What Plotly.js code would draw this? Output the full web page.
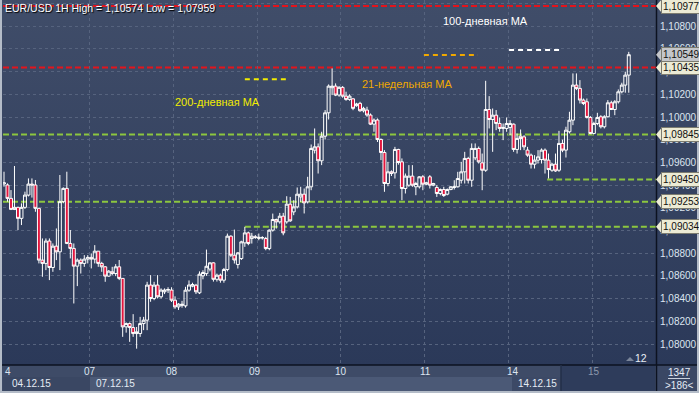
<!DOCTYPE html>
<html><head><meta charset="utf-8">
<script src="https://cdn.plot.ly/plotly-3.0.1.min.js"></script>
<style>
html,body{margin:0;padding:0;width:699px;height:393px;overflow:hidden;background:#2b3959;}
#chart{width:699px;height:393px;background:linear-gradient(to bottom,#404d69 0px,#2b3959 365px,#2b3959 393px);}
</style></head><body><div id="chart"></div>
<script>
// ---- data (EUR/USD 1H, 04.12.15 - 15.12.15) ----
const opens = [1.09410,1.09401,1.09283,1.09186,1.09204,1.09107,1.09204,1.09312,1.09409,1.09401,
1.09195,1.08739,1.08710,1.08907,1.08674,1.08862,1.08812,1.09254,1.09371,1.08886,
1.08842,1.08686,1.08739,1.08710,1.08748,1.08763,1.08748,1.08818,1.08710,1.08680,
1.08598,1.08636,1.08621,1.08680,1.08578,1.08151,1.08180,1.08145,1.08092,1.08092,
1.08180,1.08210,1.08519,1.08401,1.08519,1.08416,1.08460,1.08475,1.08475,1.08386,
1.08327,1.08340,1.08336,1.08474,1.08510,1.08518,1.08451,1.08600,1.08620,1.08660,
1.08715,1.08570,1.08606,1.08562,1.08656,1.08950,1.08782,1.08700,1.08753,1.08891,
1.08979,1.08929,1.08944,1.08930,1.08935,1.08929,1.08841,1.09003,1.09097,1.09076,
1.09126,1.09076,1.09232,1.09164,1.09208,1.09296,1.09320,1.09252,1.09385,1.09708,
1.09737,1.09614,1.09831,1.10037,1.10258,1.10272,1.10193,1.10261,1.10184,1.10155,
1.10160,1.10100,1.10120,1.10055,1.10061,1.10017,1.09937,1.09973,1.09802,1.09687,
1.09414,1.09517,1.09508,1.09714,1.09605,1.09370,1.09399,1.09479,1.09385,1.09385,
1.09473,1.09408,1.09473,1.09399,1.09379,1.09326,1.09361,1.09320,1.09361,1.09379,
1.09385,1.09443,1.09517,1.09635,1.09443,1.09640,1.09723,1.09596,1.09531,1.10066,
1.09978,1.10016,1.09943,1.09899,1.09899,1.09908,1.09937,1.09714,1.09831,1.09825,
1.09708,1.09664,1.09584,1.09620,1.09625,1.09708,1.09620,1.09531,1.09584,1.09531,
1.09767,1.09708,1.09870,1.09972,1.10281,1.10252,1.10149,1.10134,1.09996,1.09855,
1.09943,1.10002,1.09914,1.10002,1.10125,1.10066,1.10134,1.10222,1.10281,1.10369];
const highs = [1.09518,1.09415,1.09356,1.09568,1.09210,1.09239,1.09342,1.09459,1.09459,1.09445,
1.09200,1.08930,1.08930,1.08930,1.08886,1.09018,1.09489,1.09380,1.09518,1.09004,
1.08886,1.08754,1.08754,1.08783,1.08783,1.08798,1.08871,1.08818,1.08724,1.08686,
1.08651,1.08680,1.08704,1.08740,1.08578,1.08190,1.08190,1.08263,1.08150,1.08239,
1.08239,1.08548,1.08607,1.08548,1.08607,1.08490,1.08490,1.08500,1.08500,1.08420,
1.08360,1.08380,1.08504,1.08560,1.08540,1.08530,1.08640,1.08650,1.08832,1.08720,
1.08720,1.08620,1.08620,1.08670,1.08973,1.08958,1.09008,1.08810,1.08910,1.09032,
1.08990,1.08979,1.08960,1.08973,1.08950,1.08944,1.09010,1.09149,1.09105,1.09155,
1.09155,1.09302,1.09296,1.09267,1.09379,1.09385,1.09370,1.09473,1.09758,1.09899,
1.09767,1.09870,1.10061,1.10287,1.10428,1.10296,1.10272,1.10272,1.10223,1.10200,
1.10165,1.10125,1.10134,1.10090,1.10090,1.10031,1.09987,1.09987,1.09811,1.09708,
1.09605,1.09530,1.09737,1.09720,1.09635,1.09502,1.09576,1.09576,1.09429,1.09479,
1.09488,1.09429,1.09488,1.09420,1.09399,1.09370,1.09385,1.09370,1.09390,1.09443,
1.09517,1.09605,1.09693,1.09649,1.09767,1.09767,1.09740,1.09678,1.10319,1.10184,
1.10075,1.10061,1.09996,1.09943,1.09996,1.09972,1.09943,1.09855,1.09890,1.09840,
1.09737,1.09678,1.09664,1.09708,1.09723,1.09723,1.09678,1.09596,1.09678,1.09878,
1.09800,1.09914,1.10046,1.10384,1.10384,1.10325,1.10163,1.10163,1.10008,1.09958,
1.10037,1.10016,1.10016,1.10149,1.10143,1.10149,1.10243,1.10302,1.10399,1.10574];
const lows = [1.09386,1.09254,1.09180,1.09180,1.09004,1.09048,1.09190,1.09300,1.09290,1.09165,
1.08710,1.08592,1.08651,1.08563,1.08636,1.08739,1.08651,1.09240,1.08880,1.08754,
1.08357,1.08510,1.08621,1.08680,1.08710,1.08666,1.08710,1.08680,1.08636,1.08548,
1.08592,1.08607,1.08598,1.08563,1.08063,1.08100,1.08019,1.08063,1.07959,1.08063,
1.08122,1.08122,1.08372,1.08386,1.08401,1.08401,1.08440,1.08450,1.08370,1.08310,
1.08300,1.08320,1.08320,1.08460,1.08500,1.08440,1.08440,1.08570,1.08600,1.08640,
1.08550,1.08550,1.08540,1.08540,1.08640,1.08767,1.08709,1.08665,1.08740,1.08856,
1.08870,1.08885,1.08926,1.08914,1.08920,1.08826,1.08826,1.08990,1.09017,1.09060,
1.08958,1.09060,1.09076,1.09135,1.09194,1.09252,1.09150,1.09238,1.09355,1.09679,
1.09502,1.09576,1.09802,1.09978,1.10193,1.10184,1.10178,1.10170,1.10143,1.10143,
1.10060,1.10090,1.10046,1.10040,1.10002,1.09929,1.09870,1.09780,1.09620,1.09341,
1.09390,1.09480,1.09458,1.09580,1.09267,1.09326,1.09385,1.09385,1.09311,1.09370,
1.09355,1.09399,1.09370,1.09390,1.09296,1.09310,1.09296,1.09310,1.09355,1.09361,
1.09379,1.09414,1.09414,1.09414,1.09385,1.09620,1.09590,1.09355,1.09517,1.09899,
1.09693,1.09884,1.09870,1.09796,1.09870,1.09840,1.09693,1.09678,1.09708,1.09708,
1.09649,1.09546,1.09546,1.09590,1.09590,1.09502,1.09458,1.09517,1.09517,1.09517,
1.09690,1.09643,1.09855,1.09928,1.10237,1.10119,1.10105,1.09987,1.09849,1.09849,
1.09928,1.09899,1.09899,1.09996,1.10061,1.10016,1.10119,1.10208,1.10214,1.10214];
const closes = [1.09420,1.09283,1.09186,1.09204,1.09107,1.09204,1.09312,1.09409,1.09401,1.09195,
1.08739,1.08710,1.08907,1.08674,1.08862,1.08812,1.09254,1.09371,1.08886,1.08842,
1.08686,1.08739,1.08710,1.08748,1.08763,1.08748,1.08818,1.08710,1.08680,1.08598,
1.08642,1.08621,1.08680,1.08578,1.08151,1.08180,1.08145,1.08092,1.08107,1.08180,
1.08210,1.08519,1.08401,1.08519,1.08416,1.08475,1.08475,1.08480,1.08386,1.08327,
1.08351,1.08350,1.08474,1.08520,1.08524,1.08460,1.08615,1.08630,1.08685,1.08715,
1.08570,1.08606,1.08562,1.08656,1.08950,1.08782,1.08740,1.08803,1.08900,1.08979,
1.08885,1.08950,1.08940,1.08940,1.08937,1.08841,1.09003,1.09097,1.09076,1.09126,
1.08979,1.09232,1.09085,1.09208,1.09320,1.09320,1.09243,1.09385,1.09723,1.09737,
1.09614,1.09831,1.10037,1.10272,1.10272,1.10193,1.10261,1.10184,1.10155,1.10184,
1.10076,1.10114,1.10055,1.10076,1.10017,1.09937,1.09973,1.09802,1.09687,1.09414,
1.09517,1.09502,1.09714,1.09599,1.09370,1.09479,1.09479,1.09399,1.09414,1.09473,
1.09408,1.09420,1.09399,1.09414,1.09326,1.09361,1.09308,1.09361,1.09385,1.09385,
1.09458,1.09517,1.09635,1.09443,1.09723,1.09723,1.09605,1.09531,1.10066,1.09978,
1.10016,1.09943,1.09899,1.09908,1.09943,1.09943,1.09714,1.09811,1.09811,1.09737,
1.09664,1.09584,1.09620,1.09649,1.09708,1.09620,1.09537,1.09584,1.09525,1.09767,
1.09708,1.09884,1.09972,1.10281,1.10252,1.10149,1.10119,1.09996,1.09855,1.09943,
1.09996,1.09914,1.10002,1.10125,1.10066,1.10134,1.10222,1.10281,1.10369,1.10549];
const dayLabels = ['4','07','08','09','10','11','14','15'];
const dateLabels = ['04.12.15','07.12.15','14.12.15'];
const levelPrices = [1.10977,1.10435,1.09845,1.09450,1.09253,1.09034];
const maNames = ['200-дневная МА','21-недельная МА','100-дневная МА'];
const maValues = [1.10332,1.10546,1.10590];
const barsCount = '1347';
const barsShown = '>186<';

// ---- layout geometry ----
const PL=3, PR=656, PT=0, PB=365;
const xp = px => (px-PL)/(PR-PL);
const yp = py => (PB-py)/(PB-PT);
const yRange=[1.07815,1.110308];
const xRange=[-0.29,186.8];
const pxPerPrice = (PB-PT)/(yRange[1]-yRange[0]);
const fmt = v => v.toFixed(5).replace('.', ',');
const xs = opens.map((_,i)=>i);
const dayGrid = [24.5,48.5,72.5,96.5,120.5,144.5,168.5];
const dayLabelPx = [3,90,172,255,341,425,513,594];
const levelStart = [xRange[0],xRange[0],xRange[0],155.6,xRange[0],69];
const levelColor = ['#e3141c','#e3141c','#8cc63f','#8cc63f','#8cc63f','#8cc63f'];
const maSpan = [[69,81.8],[120.3,135.8],[144.7,159.5]];
const maColor = ['#f2ec00','#f0a800','#ffffff'];
const maLabelPx = [[217,102],[407,84],[485,21]];
const FONT = 'Liberation Sans, Arial, sans-serif';

const traces = [{
  type:'candlestick', x:xs, open:opens, high:highs, low:lows, close:closes,
  increasing:{line:{color:'#ffffff',width:1},fillcolor:'rgba(0,0,0,0)'},
  decreasing:{line:{color:'#ffffff',width:1},fillcolor:'#e3163e'},
  whiskerwidth:0, hoverinfo:'skip', showlegend:false
}];
maValues.forEach((v,k)=>{
  traces.push({type:'scatter',mode:'lines',x:maSpan[k],y:[v,v],
    line:{color:maColor[k],width:2,dash:'5px,4px'},hoverinfo:'skip',showlegend:false});
});

const shapes = [];
levelPrices.forEach((v,k)=>{
  shapes.push({type:'line',xref:'x',yref:'y',x0:levelStart[k],x1:xRange[1],y0:v,y1:v,
    line:{color:levelColor[k],width:2,dash:'6px,3px'},layer:'below'});
});
// bottom strip
const rect=(x0,y0,x1,y1,fill,line)=>({type:'rect',xref:'paper',yref:'paper',x0:xp(x0),x1:xp(x1),y0:yp(y0),y1:yp(y1),
  fillcolor:fill,line:{width:line?1:0,color:line||'rgba(0,0,0,0)'},layer:'above'});
shapes.push(rect(0,365,699,393,'#3e4b67'));
shapes.push(rect(3,377,90,391,'#3a4763'));
shapes.push(rect(90,377,512,391,'#4b5976'));
shapes.push(rect(512,377,561,391,'#3c4966'));
shapes.push(rect(561,365,655,391,'#2e3c5b'));
shapes.push(rect(657,365,699,393,'#3a4764'));
// separators
const ln=(x0,y0,x1,y1,c,w)=>({type:'line',xref:'paper',yref:'paper',x0:xp(x0),x1:xp(x1),y0:yp(y0),y1:yp(y1),line:{color:c,width:w},layer:'above'});
shapes.push(ln(0,365,699,365,'#0c1220',1.5));
shapes.push(ln(656.5,0,656.5,393,'#0c1220',1.5));
shapes.push(ln(561,365,561,391,'#232f48',1.5));
shapes.push(ln(668,378.5,690,378.5,'#c8d0dc',1));
// outer frame
shapes.push(rect(0,0,2,393,'#b4bcc8'));
shapes.push(rect(0,391,699,393,'#b4bcc8'));
shapes.push(rect(697,0,699,393,'#b4bcc8'));
// small triangle near "12"
shapes.push({type:'path',xref:'paper',yref:'paper',
  path:`M ${xp(626)} ${yp(361)} L ${xp(634)} ${yp(361)} L ${xp(630)} ${yp(357)} Z`,
  fillcolor:'#7b869a',line:{width:0},layer:'above'});

const annotations = [];
annotations.push({xref:'paper',yref:'paper',x:xp(3),y:yp(8),xanchor:'left',yanchor:'middle',showarrow:false,
  text:`EUR/USD 1H High = ${fmt(Math.max(...highs))} Low = ${fmt(Math.min(...lows))}`,
  font:{family:FONT,size:10.5,color:'#ffffff',shadow:'1px 1px 1px #000'}});
maNames.forEach((t,k)=>{
  annotations.push({xref:'paper',yref:'paper',x:xp(maLabelPx[k][0]),y:yp(maLabelPx[k][1]),xanchor:'center',yanchor:'middle',
    showarrow:false,text:t,font:{family:FONT,size:11,color:maColor[k]}});
});
// price markers on axis
const markerPrices = levelPrices.concat([closes[closes.length-1]]);
markerPrices.forEach((v,k)=>{
  const last = k===markerPrices.length-1;
  const bg = last ? '#c4c6ca' : '#ecebd5';
  const half = 6.5/pxPerPrice;
  shapes.push({type:'path',xref:'paper',yref:'y',
    path:`M ${xp(656)} ${v} L ${xp(661.5)} ${v+half} L ${xp(661.5)} ${v-half} Z`,
    fillcolor:bg,line:{width:0},layer:'above'});
  annotations.push({xref:'paper',yref:'y',x:xp(660.5),y:v,xanchor:'left',yanchor:'middle',showarrow:false,
    text:fmt(v),bgcolor:bg,bordercolor:'#7c7c70',borderwidth:1,borderpad:1,
    font:{family:FONT,size:10,color:'#101010'}});
});
// day labels
dayLabels.forEach((t,k)=>{
  annotations.push({xref:'paper',yref:'paper',x:xp(dayLabelPx[k]),y:yp(371),xanchor:k===0?'left':'center',yanchor:'middle',
    showarrow:false,text:t,font:{family:FONT,size:10,color:k===dayLabels.length-1?'#8d99ad':'#dce5f0'}});
});
const dateLabelPx=[10,94,516];
dateLabels.forEach((t,k)=>{
  annotations.push({xref:'paper',yref:'paper',x:xp(dateLabelPx[k]),y:yp(384),xanchor:'left',yanchor:'middle',
    showarrow:false,text:t,font:{family:FONT,size:10,color:'#e4ebf4'}});
});
annotations.push({xref:'paper',yref:'paper',x:xp(679),y:yp(372),xanchor:'center',yanchor:'middle',showarrow:false,
  text:barsCount,font:{family:FONT,size:10,color:'#e4ebf4'}});
annotations.push({xref:'paper',yref:'paper',x:xp(679),y:yp(385),xanchor:'center',yanchor:'middle',showarrow:false,
  text:barsShown,font:{family:FONT,size:10,color:'#e4ebf4'}});
annotations.push({xref:'paper',yref:'paper',x:xp(641),y:yp(358),xanchor:'center',yanchor:'middle',showarrow:false,
  text:'12',font:{family:FONT,size:10.5,color:'#e8eef6'}});

const yTicks=[]; for(let k=0;k<=15;k++) yTicks.push(1.080+0.002*k);

const layout = {
  width:699,height:393,margin:{l:PL,r:699-PR,t:PT,b:393-PB},
  paper_bgcolor:'rgba(0,0,0,0)',plot_bgcolor:'rgba(0,0,0,0)',
  separators:', ',showlegend:false,boxgap:0.08,boxgroupgap:0.08,
  xaxis:{range:xRange,rangeslider:{visible:false},tickvals:dayGrid,showticklabels:false,ticks:'',
    showgrid:true,gridcolor:'#56637e',gridwidth:1,griddash:'3px,3px',zeroline:false,showline:false,fixedrange:true},
  yaxis:{range:yRange,side:'right',tickvals:yTicks,tickformat:'.5f',ticks:'',ticklabelstandoff:3,
    tickfont:{family:FONT,size:10,color:'#dce5f0'},
    showgrid:true,gridcolor:'#56637e',gridwidth:1,griddash:'3px,3px',zeroline:false,showline:false,fixedrange:true},
  shapes:shapes,annotations:annotations
};
Plotly.newPlot('chart',traces,layout,{displayModeBar:false,staticPlot:true});
</script></body></html>
